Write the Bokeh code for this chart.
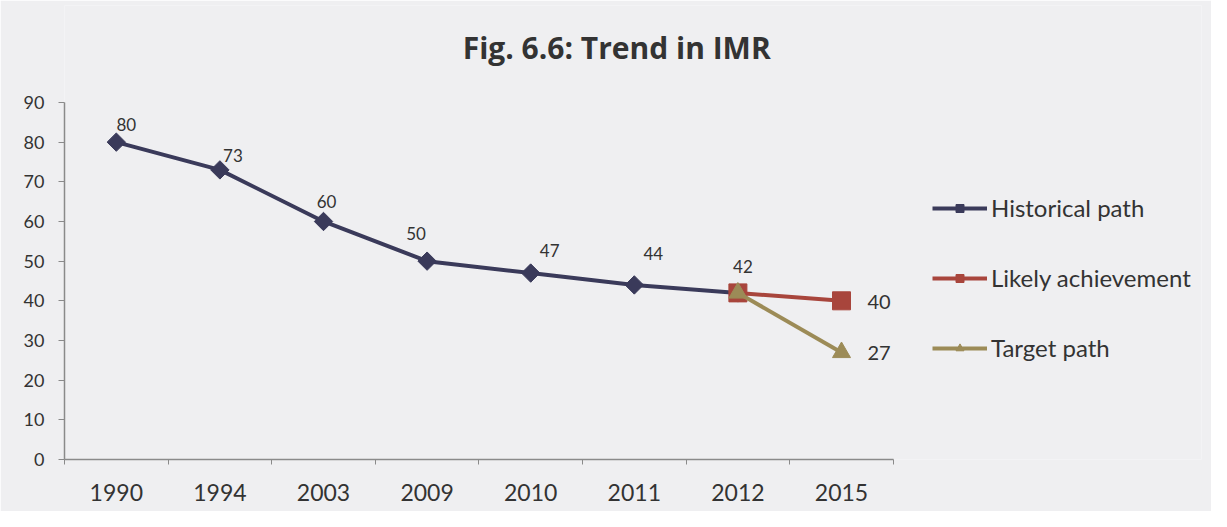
import math
from bokeh.plotting import figure
from bokeh.models import Range1d, FixedTicker, Label, Legend, LegendItem, ColumnDataSource, LabelSet
from bokeh.embed import file_html
from bokeh.resources import INLINE
from bokeh.core.properties import value

# ---- data ----
years = ["1990", "1994", "2003", "2009", "2010", "2011", "2012", "2015"]
historical = [80, 73, 60, 50, 47, 44, 42]          # 1990 .. 2012
likely_years = ["2012", "2015"]
likely = [42, 40]
target_years = ["2012", "2015"]
target = [42, 27]
y_ticks = [0, 10, 20, 30, 40, 50, 60, 70, 80, 90]
title_text = "Fig. 6.6: Trend in IMR"
series_names = ["Historical path", "Likely achievement", "Target path"]

# label placement (pixels, right / up) for historical labels
label_dx = [10, 13, 3, -11, 19, 19, 5]
label_dy = [18, 14, 20, 28, 23, 31, 26]

FONT = "Lato"
C_HIST = "#3a3a5a"
C_LIKE = "#a8453c"
C_TARG = "#9c8b57"
TXT = "#333333"
AXC = "#8a8a8a"

W, H = 1211, 511
ML, MR, MT, MB = 64, 10, 5, 52
cat_px = 103.6
val_px = 3.967
xmax = -0.5 + (W - ML - MR) / cat_px
ymax = (H - MT - MB) / val_px

p = figure(width=W, height=H, output_backend="svg", toolbar_location=None,
           x_range=Range1d(-0.5, xmax), y_range=Range1d(0, ymax),
           min_border_left=ML, min_border_right=MR, min_border_top=MT, min_border_bottom=MB)
p.background_fill_color = "#efeff1"
p.border_fill_color = "#efeff1"
p.outline_line_color = None
p.grid.visible = False
p.styles = {"box-shadow": "-3px -3px 0 0 #8e4a45, -8px -8px 0 0 #dde2e8"}

# x axis
xa = p.xaxis[0]
xa.ticker = FixedTicker(ticks=list(range(len(years))),
                        minor_ticks=[i - 0.5 for i in range(len(years) + 1)])
xa.major_label_overrides = {i: y for i, y in enumerate(years)}
xa.bounds = (-0.5, len(years) - 0.5)
xa.major_tick_out = 0
xa.major_tick_in = 0
xa.minor_tick_out = 5
xa.minor_tick_in = 0
xa.minor_tick_line_color = AXC
xa.axis_line_color = AXC
xa.axis_line_width = 1.5
xa.major_label_text_font = FONT
xa.major_label_text_font_size = "23px"
xa.major_label_text_color = TXT
xa.major_label_standoff = 19

# y axis
ya = p.yaxis[0]
ya.ticker = FixedTicker(ticks=y_ticks, minor_ticks=[])
ya.bounds = (y_ticks[0], y_ticks[-1])
ya.major_tick_out = 6
ya.major_tick_in = 0
ya.major_tick_line_color = AXC
ya.minor_tick_line_color = None
ya.axis_line_color = AXC
ya.axis_line_width = 1.5
ya.major_label_text_font = FONT
ya.major_label_text_font_size = "18px"
ya.major_label_text_color = TXT
ya.major_label_standoff = 14

# series
hx = list(range(len(historical)))
lx = [years.index(y) for y in likely_years]
tx = [years.index(y) for y in target_years]

l1 = p.line(hx, historical, line_color=C_HIST, line_width=4)
m1 = p.scatter(hx, historical, marker="square", angle=math.pi / 4, size=13,
               fill_color=C_HIST, line_color=C_HIST)
l2 = p.line(lx, likely, line_color=C_LIKE, line_width=4)
m2 = p.scatter(lx, likely, marker="square", size=18, fill_color=C_LIKE, line_color=C_LIKE)
l3 = p.line(tx, target, line_color=C_TARG, line_width=4)
m3 = p.scatter(tx, target, marker="triangle", size=18, fill_color=C_TARG, line_color=C_TARG)

# data labels
src = ColumnDataSource(dict(x=hx, y=historical, t=[str(v) for v in historical],
                            dx=label_dx, dy=label_dy))
p.add_layout(LabelSet(x="x", y="y", text="t", source=src, x_offset="dx", y_offset="dy",
                      text_align="center", text_baseline="middle",
                      text_font=value(FONT), text_font_size="17px", text_color=TXT))
end_src = ColumnDataSource(dict(x=[lx[-1], tx[-1]], y=[likely[-1], target[-1]],
                                t=[str(likely[-1]), str(target[-1])]))
p.add_layout(LabelSet(x="x", y="y", text="t", source=end_src, x_offset=26, y_offset=-1,
                      text_align="left", text_baseline="middle",
                      text_font=value(FONT), text_font_size="20px", text_color=TXT))

# title
p.add_layout(Label(x=4.83, y=103.9, text=title_text, text_align="center",
                   text_baseline="middle", text_font="Open Sans", text_font_style="bold",
                   text_font_size="30px", text_color=TXT))

# legend
legend = Legend(items=[LegendItem(label=series_names[0], renderers=[l1, m1]),
                       LegendItem(label=series_names[1], renderers=[l2, m2]),
                       LegendItem(label=series_names[2], renderers=[l3, m3])],
                location=(868, 97), orientation="vertical",
                glyph_width=55, glyph_height=20, label_standoff=4, spacing=41,
                padding=0, margin=0, border_line_color=None, background_fill_alpha=0,
                label_text_font=FONT, label_text_font_size="24px", label_text_color=TXT)
p.add_layout(legend)

open("out.html", "w").write(file_html(p, INLINE))
